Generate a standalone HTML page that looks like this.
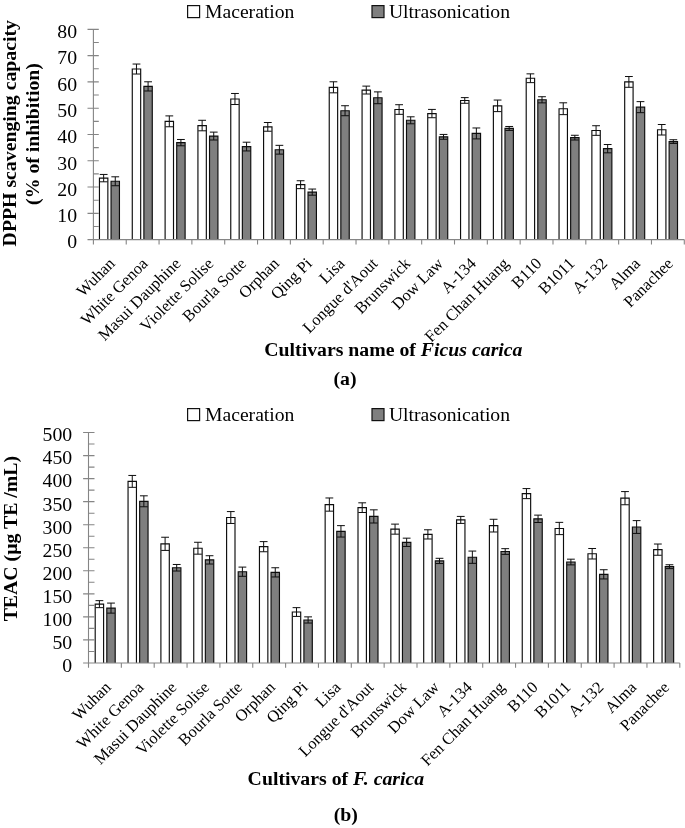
<!DOCTYPE html>
<html lang="en"><head><meta charset="utf-8"><title>Antioxidant capacity of Ficus carica cultivars</title>
<style>
html,body{margin:0;padding:0;background:#fff}
svg{display:block;will-change:transform;filter:grayscale(1)}
text{font-family:"Liberation Serif","Times New Roman",serif;fill:#000}
</style></head><body>
<svg role="img" aria-label="Antioxidant capacity bar charts" width="685" height="828" viewBox="0 0 685 828">
<rect width="685" height="828" fill="#fff"/>
<path d="M99.45 239.62V178.12H107.85V239.62" fill="#fff" stroke="#0d0d0d" stroke-width="1.15"/>
<path d="M103.65 174.44V181.80M99.75 174.44H107.55M99.75 181.80H107.55" stroke="#0d0d0d" stroke-width="1" fill="none"/>
<path d="M111.05 239.62V181.27H119.45V239.62" fill="#7f7f7f" stroke="#0d0d0d" stroke-width="1.15"/>
<path d="M115.25 176.80V185.74M111.35 176.80H119.15M111.35 185.74H119.15" stroke="#0d0d0d" stroke-width="1" fill="none"/>
<path d="M132.28 239.62V69.04H140.68V239.62" fill="#fff" stroke="#0d0d0d" stroke-width="1.15"/>
<path d="M136.48 64.04V74.03M132.58 64.04H140.38M132.58 74.03H140.38" stroke="#0d0d0d" stroke-width="1" fill="none"/>
<path d="M143.88 239.62V86.39H152.28V239.62" fill="#7f7f7f" stroke="#0d0d0d" stroke-width="1.15"/>
<path d="M148.08 81.79V90.99M144.18 81.79H151.98M144.18 90.99H151.98" stroke="#0d0d0d" stroke-width="1" fill="none"/>
<path d="M165.11 239.62V121.34H173.51V239.62" fill="#fff" stroke="#0d0d0d" stroke-width="1.15"/>
<path d="M169.31 115.90V126.78M165.41 115.90H173.21M165.41 126.78H173.21" stroke="#0d0d0d" stroke-width="1" fill="none"/>
<path d="M176.71 239.62V142.63H185.11V239.62" fill="#7f7f7f" stroke="#0d0d0d" stroke-width="1.15"/>
<path d="M180.91 139.48V145.79M177.01 139.48H184.81M177.01 145.79H184.81" stroke="#0d0d0d" stroke-width="1" fill="none"/>
<path d="M197.93 239.62V125.55H206.33V239.62" fill="#fff" stroke="#0d0d0d" stroke-width="1.15"/>
<path d="M202.13 120.29V130.81M198.23 120.29H206.03M198.23 130.81H206.03" stroke="#0d0d0d" stroke-width="1" fill="none"/>
<path d="M209.53 239.62V136.06H217.93V239.62" fill="#7f7f7f" stroke="#0d0d0d" stroke-width="1.15"/>
<path d="M213.73 132.12V140.00M209.83 132.12H217.63M209.83 140.00H217.63" stroke="#0d0d0d" stroke-width="1" fill="none"/>
<path d="M230.76 239.62V99.00H239.16V239.62" fill="#fff" stroke="#0d0d0d" stroke-width="1.15"/>
<path d="M234.96 93.48V104.52M231.06 93.48H238.86M231.06 104.52H238.86" stroke="#0d0d0d" stroke-width="1" fill="none"/>
<path d="M242.36 239.62V146.58H250.76V239.62" fill="#7f7f7f" stroke="#0d0d0d" stroke-width="1.15"/>
<path d="M246.56 142.21V150.94M242.66 142.21H250.46M242.66 150.94H250.46" stroke="#0d0d0d" stroke-width="1" fill="none"/>
<path d="M263.59 239.62V126.86H271.99V239.62" fill="#fff" stroke="#0d0d0d" stroke-width="1.15"/>
<path d="M267.79 122.50V131.23M263.89 122.50H271.69M263.89 131.23H271.69" stroke="#0d0d0d" stroke-width="1" fill="none"/>
<path d="M275.19 239.62V149.73H283.59V239.62" fill="#7f7f7f" stroke="#0d0d0d" stroke-width="1.15"/>
<path d="M279.39 145.34V154.12M275.49 145.34H283.29M275.49 154.12H283.29" stroke="#0d0d0d" stroke-width="1" fill="none"/>
<path d="M296.42 239.62V184.69H304.82V239.62" fill="#fff" stroke="#0d0d0d" stroke-width="1.15"/>
<path d="M300.62 180.74V188.63M296.72 180.74H304.52M296.72 188.63H304.52" stroke="#0d0d0d" stroke-width="1" fill="none"/>
<path d="M308.02 239.62V192.13H316.42V239.62" fill="#7f7f7f" stroke="#0d0d0d" stroke-width="1.15"/>
<path d="M312.22 189.05V195.20M308.32 189.05H316.12M308.32 195.20H316.12" stroke="#0d0d0d" stroke-width="1" fill="none"/>
<path d="M329.24 239.62V87.31H337.64V239.62" fill="#fff" stroke="#0d0d0d" stroke-width="1.15"/>
<path d="M333.44 81.79V92.83M329.54 81.79H337.34M329.54 92.83H337.34" stroke="#0d0d0d" stroke-width="1" fill="none"/>
<path d="M340.84 239.62V110.72H349.24V239.62" fill="#7f7f7f" stroke="#0d0d0d" stroke-width="1.15"/>
<path d="M345.04 105.73V115.72M341.14 105.73H348.94M341.14 115.72H348.94" stroke="#0d0d0d" stroke-width="1" fill="none"/>
<path d="M362.07 239.62V90.07H370.47V239.62" fill="#fff" stroke="#0d0d0d" stroke-width="1.15"/>
<path d="M366.27 86.12V94.01M362.37 86.12H370.17M362.37 94.01H370.17" stroke="#0d0d0d" stroke-width="1" fill="none"/>
<path d="M373.67 239.62V97.79H382.07V239.62" fill="#7f7f7f" stroke="#0d0d0d" stroke-width="1.15"/>
<path d="M377.87 91.88V103.71M373.97 91.88H381.77M373.97 103.71H381.77" stroke="#0d0d0d" stroke-width="1" fill="none"/>
<path d="M394.90 239.62V109.52H403.30V239.62" fill="#fff" stroke="#0d0d0d" stroke-width="1.15"/>
<path d="M399.10 104.71V114.33M395.20 104.71H403.00M395.20 114.33H403.00" stroke="#0d0d0d" stroke-width="1" fill="none"/>
<path d="M406.50 239.62V120.29H414.90V239.62" fill="#7f7f7f" stroke="#0d0d0d" stroke-width="1.15"/>
<path d="M410.70 116.80V123.79M406.80 116.80H414.60M406.80 123.79H414.60" stroke="#0d0d0d" stroke-width="1" fill="none"/>
<path d="M427.73 239.62V113.56H436.13V239.62" fill="#fff" stroke="#0d0d0d" stroke-width="1.15"/>
<path d="M431.93 109.41V117.72M428.03 109.41H435.83M428.03 117.72H435.83" stroke="#0d0d0d" stroke-width="1" fill="none"/>
<path d="M439.33 239.62V136.85H447.73V239.62" fill="#7f7f7f" stroke="#0d0d0d" stroke-width="1.15"/>
<path d="M443.53 134.43V139.27M439.63 134.43H447.43M439.63 139.27H447.43" stroke="#0d0d0d" stroke-width="1" fill="none"/>
<path d="M460.56 239.62V100.45H468.96V239.62" fill="#fff" stroke="#0d0d0d" stroke-width="1.15"/>
<path d="M464.76 97.61V103.29M460.86 97.61H468.66M460.86 103.29H468.66" stroke="#0d0d0d" stroke-width="1" fill="none"/>
<path d="M472.16 239.62V133.43H480.56V239.62" fill="#7f7f7f" stroke="#0d0d0d" stroke-width="1.15"/>
<path d="M476.36 127.97V138.90M472.46 127.97H480.26M472.46 138.90H480.26" stroke="#0d0d0d" stroke-width="1" fill="none"/>
<path d="M493.38 239.62V105.84H501.78V239.62" fill="#fff" stroke="#0d0d0d" stroke-width="1.15"/>
<path d="M497.58 100.05V111.62M493.68 100.05H501.48M493.68 111.62H501.48" stroke="#0d0d0d" stroke-width="1" fill="none"/>
<path d="M504.98 239.62V128.44H513.38V239.62" fill="#7f7f7f" stroke="#0d0d0d" stroke-width="1.15"/>
<path d="M509.18 126.47V130.41M505.28 126.47H513.08M505.28 130.41H513.08" stroke="#0d0d0d" stroke-width="1" fill="none"/>
<path d="M526.21 239.62V78.24H534.61V239.62" fill="#fff" stroke="#0d0d0d" stroke-width="1.15"/>
<path d="M530.41 73.85V82.63M526.51 73.85H534.31M526.51 82.63H534.31" stroke="#0d0d0d" stroke-width="1" fill="none"/>
<path d="M537.81 239.62V99.79H546.21V239.62" fill="#7f7f7f" stroke="#0d0d0d" stroke-width="1.15"/>
<path d="M542.01 96.72V102.87M538.11 96.72H545.91M538.11 102.87H545.91" stroke="#0d0d0d" stroke-width="1" fill="none"/>
<path d="M559.04 239.62V108.73H567.44V239.62" fill="#fff" stroke="#0d0d0d" stroke-width="1.15"/>
<path d="M563.24 102.81V114.64M559.34 102.81H567.14M559.34 114.64H567.14" stroke="#0d0d0d" stroke-width="1" fill="none"/>
<path d="M570.64 239.62V137.64H579.04V239.62" fill="#7f7f7f" stroke="#0d0d0d" stroke-width="1.15"/>
<path d="M574.84 135.27V140.00M570.94 135.27H578.74M570.94 140.00H578.74" stroke="#0d0d0d" stroke-width="1" fill="none"/>
<path d="M591.87 239.62V130.54H600.27V239.62" fill="#fff" stroke="#0d0d0d" stroke-width="1.15"/>
<path d="M596.07 125.73V135.35M592.17 125.73H599.97M592.17 135.35H599.97" stroke="#0d0d0d" stroke-width="1" fill="none"/>
<path d="M603.47 239.62V148.68H611.87V239.62" fill="#7f7f7f" stroke="#0d0d0d" stroke-width="1.15"/>
<path d="M607.67 144.53V152.83M603.77 144.53H611.57M603.77 152.83H611.57" stroke="#0d0d0d" stroke-width="1" fill="none"/>
<path d="M624.69 239.62V81.92H633.09V239.62" fill="#fff" stroke="#0d0d0d" stroke-width="1.15"/>
<path d="M628.89 76.53V87.31M624.99 76.53H632.79M624.99 87.31H632.79" stroke="#0d0d0d" stroke-width="1" fill="none"/>
<path d="M636.29 239.62V107.15H644.69V239.62" fill="#7f7f7f" stroke="#0d0d0d" stroke-width="1.15"/>
<path d="M640.49 101.63V112.67M636.59 101.63H644.39M636.59 112.67H644.39" stroke="#0d0d0d" stroke-width="1" fill="none"/>
<path d="M657.52 239.62V129.75H665.92V239.62" fill="#fff" stroke="#0d0d0d" stroke-width="1.15"/>
<path d="M661.72 124.50V135.01M657.82 124.50H665.62M657.82 135.01H665.62" stroke="#0d0d0d" stroke-width="1" fill="none"/>
<path d="M669.12 239.62V141.58H677.52V239.62" fill="#7f7f7f" stroke="#0d0d0d" stroke-width="1.15"/>
<path d="M673.32 139.74V143.42M669.42 139.74H677.22M669.42 143.42H677.22" stroke="#0d0d0d" stroke-width="1" fill="none"/>
<path d="M93.40 29.35V239.62M93.40 239.62H684.30M87.50 239.62H98.80M87.50 213.34H98.80M87.50 187.05H98.80M87.50 160.77H98.80M87.50 134.49H98.80M87.50 108.20H98.80M87.50 81.92H98.80M87.50 55.63H98.80M87.50 29.35H98.80M93.40 226.48H98.80M93.40 200.19H98.80M93.40 173.91H98.80M93.40 147.63H98.80M93.40 121.34H98.80M93.40 95.06H98.80M93.40 68.78H98.80M93.40 42.49H98.80M93.40 239.62V244.42M126.23 239.62V244.42M159.06 239.62V244.42M191.88 239.62V244.42M224.71 239.62V244.42M257.54 239.62V244.42M290.37 239.62V244.42M323.19 239.62V244.42M356.02 239.62V244.42M388.85 239.62V244.42M421.68 239.62V244.42M454.51 239.62V244.42M487.33 239.62V244.42M520.16 239.62V244.42M552.99 239.62V244.42M585.82 239.62V244.42M618.64 239.62V244.42M651.47 239.62V244.42M684.30 239.62V244.42" stroke="#858585" stroke-width="1.1" fill="none"/>
<text x="77.1" y="248.47" text-anchor="end" font-size="19.75">0</text>
<text x="77.1" y="222.19" text-anchor="end" font-size="19.75">10</text>
<text x="77.1" y="195.90" text-anchor="end" font-size="19.75">20</text>
<text x="77.1" y="169.62" text-anchor="end" font-size="19.75">30</text>
<text x="77.1" y="143.34" text-anchor="end" font-size="19.75">40</text>
<text x="77.1" y="117.05" text-anchor="end" font-size="19.75">50</text>
<text x="77.1" y="90.77" text-anchor="end" font-size="19.75">60</text>
<text x="77.1" y="64.48" text-anchor="end" font-size="19.75">70</text>
<text x="77.1" y="38.20" text-anchor="end" font-size="19.75">80</text>
<text transform="translate(115.91 264.52) rotate(-45)" text-anchor="end" font-size="16.4">Wuhan</text>
<text transform="translate(148.74 264.52) rotate(-45)" text-anchor="end" font-size="16.4">White Genoa</text>
<text transform="translate(181.57 264.52) rotate(-45)" text-anchor="end" font-size="16.4">Masui Dauphine</text>
<text transform="translate(214.40 264.52) rotate(-45)" text-anchor="end" font-size="16.4">Violette Solise</text>
<text transform="translate(247.22 264.52) rotate(-45)" text-anchor="end" font-size="16.4">Bourla Sotte</text>
<text transform="translate(280.05 264.52) rotate(-45)" text-anchor="end" font-size="16.4">Orphan</text>
<text transform="translate(312.88 264.52) rotate(-45)" text-anchor="end" font-size="16.4">Qing Pi</text>
<text transform="translate(345.71 264.52) rotate(-45)" text-anchor="end" font-size="16.4">Lisa</text>
<text transform="translate(378.54 264.52) rotate(-45)" text-anchor="end" font-size="16.4">Longue d'Aout</text>
<text transform="translate(411.36 264.52) rotate(-45)" text-anchor="end" font-size="16.4">Brunswick</text>
<text transform="translate(444.19 264.52) rotate(-45)" text-anchor="end" font-size="16.4">Dow Law</text>
<text transform="translate(477.02 264.52) rotate(-45)" text-anchor="end" font-size="16.4">A-134</text>
<text transform="translate(509.85 264.52) rotate(-45)" text-anchor="end" font-size="16.4">Fen Chan Huang</text>
<text transform="translate(542.67 264.52) rotate(-45)" text-anchor="end" font-size="16.4">B110</text>
<text transform="translate(575.50 264.52) rotate(-45)" text-anchor="end" font-size="16.4">B1011</text>
<text transform="translate(608.33 264.52) rotate(-45)" text-anchor="end" font-size="16.4">A-132</text>
<text transform="translate(641.16 264.52) rotate(-45)" text-anchor="end" font-size="16.4">Alma</text>
<text transform="translate(673.99 264.52) rotate(-45)" text-anchor="end" font-size="16.4">Panachee</text>
<path d="M95.20 662.95V604.15H103.60V662.95" fill="#fff" stroke="#0d0d0d" stroke-width="1.15"/>
<path d="M99.40 600.65V607.65M95.50 600.65H103.30M95.50 607.65H103.30" stroke="#0d0d0d" stroke-width="1" fill="none"/>
<path d="M106.80 662.95V608.11H115.20V662.95" fill="#7f7f7f" stroke="#0d0d0d" stroke-width="1.15"/>
<path d="M111.00 603.09V613.14M107.10 603.09H114.90M107.10 613.14H114.90" stroke="#0d0d0d" stroke-width="1" fill="none"/>
<path d="M128.05 662.95V481.39H136.45V662.95" fill="#fff" stroke="#0d0d0d" stroke-width="1.15"/>
<path d="M132.25 475.45V487.34M128.35 475.45H136.15M128.35 487.34H136.15" stroke="#0d0d0d" stroke-width="1" fill="none"/>
<path d="M139.65 662.95V501.30H148.05V662.95" fill="#7f7f7f" stroke="#0d0d0d" stroke-width="1.15"/>
<path d="M143.85 495.82V506.78M139.95 495.82H147.75M139.95 506.78H147.75" stroke="#0d0d0d" stroke-width="1" fill="none"/>
<path d="M160.90 662.95V543.83H169.30V662.95" fill="#fff" stroke="#0d0d0d" stroke-width="1.15"/>
<path d="M165.10 537.24V550.42M161.20 537.24H169.00M161.20 550.42H169.00" stroke="#0d0d0d" stroke-width="1" fill="none"/>
<path d="M172.50 662.95V567.75H180.90V662.95" fill="#7f7f7f" stroke="#0d0d0d" stroke-width="1.15"/>
<path d="M176.70 564.48V571.02M172.80 564.48H180.60M172.80 571.02H180.60" stroke="#0d0d0d" stroke-width="1" fill="none"/>
<path d="M193.75 662.95V548.21H202.15V662.95" fill="#fff" stroke="#0d0d0d" stroke-width="1.15"/>
<path d="M197.95 542.27V554.16M194.05 542.27H201.85M194.05 554.16H201.85" stroke="#0d0d0d" stroke-width="1" fill="none"/>
<path d="M205.35 662.95V559.87H213.75V662.95" fill="#7f7f7f" stroke="#0d0d0d" stroke-width="1.15"/>
<path d="M209.55 555.72V564.02M205.65 555.72H213.45M205.65 564.02H213.45" stroke="#0d0d0d" stroke-width="1" fill="none"/>
<path d="M226.60 662.95V517.52H235.00V662.95" fill="#fff" stroke="#0d0d0d" stroke-width="1.15"/>
<path d="M230.80 511.58V523.47M226.90 511.58H234.70M226.90 523.47H234.70" stroke="#0d0d0d" stroke-width="1" fill="none"/>
<path d="M238.20 662.95V571.71H246.60V662.95" fill="#7f7f7f" stroke="#0d0d0d" stroke-width="1.15"/>
<path d="M242.40 567.10V576.32M238.50 567.10H246.30M238.50 576.32H246.30" stroke="#0d0d0d" stroke-width="1" fill="none"/>
<path d="M259.45 662.95V546.69H267.85V662.95" fill="#fff" stroke="#0d0d0d" stroke-width="1.15"/>
<path d="M263.65 541.62V551.76M259.75 541.62H267.55M259.75 551.76H267.55" stroke="#0d0d0d" stroke-width="1" fill="none"/>
<path d="M271.05 662.95V572.36H279.45V662.95" fill="#7f7f7f" stroke="#0d0d0d" stroke-width="1.15"/>
<path d="M275.25 567.75V576.96M271.35 567.75H279.15M271.35 576.96H279.15" stroke="#0d0d0d" stroke-width="1" fill="none"/>
<path d="M292.30 662.95V612.03H300.70V662.95" fill="#fff" stroke="#0d0d0d" stroke-width="1.15"/>
<path d="M296.50 607.65V616.41M292.60 607.65H300.40M292.60 616.41H300.40" stroke="#0d0d0d" stroke-width="1" fill="none"/>
<path d="M303.90 662.95V619.96H312.30V662.95" fill="#7f7f7f" stroke="#0d0d0d" stroke-width="1.15"/>
<path d="M308.10 616.87V623.04M304.20 616.87H312.00M304.20 623.04H312.00" stroke="#0d0d0d" stroke-width="1" fill="none"/>
<path d="M325.15 662.95V504.57H333.55V662.95" fill="#fff" stroke="#0d0d0d" stroke-width="1.15"/>
<path d="M329.35 497.98V511.16M325.45 497.98H333.25M325.45 511.16H333.25" stroke="#0d0d0d" stroke-width="1" fill="none"/>
<path d="M336.75 662.95V531.35H345.15V662.95" fill="#7f7f7f" stroke="#0d0d0d" stroke-width="1.15"/>
<path d="M340.95 525.63V537.06M337.05 525.63H344.85M337.05 537.06H344.85" stroke="#0d0d0d" stroke-width="1" fill="none"/>
<path d="M358.00 662.95V507.66H366.40V662.95" fill="#fff" stroke="#0d0d0d" stroke-width="1.15"/>
<path d="M362.20 502.82V512.50M358.30 502.82H366.10M358.30 512.50H366.10" stroke="#0d0d0d" stroke-width="1" fill="none"/>
<path d="M369.60 662.95V516.42H378.00V662.95" fill="#7f7f7f" stroke="#0d0d0d" stroke-width="1.15"/>
<path d="M373.80 509.83V523.01M369.90 509.83H377.70M369.90 523.01H377.70" stroke="#0d0d0d" stroke-width="1" fill="none"/>
<path d="M390.85 662.95V529.13H399.25V662.95" fill="#fff" stroke="#0d0d0d" stroke-width="1.15"/>
<path d="M395.05 524.11V534.16M391.15 524.11H398.95M391.15 534.16H398.95" stroke="#0d0d0d" stroke-width="1" fill="none"/>
<path d="M402.45 662.95V542.31H410.85V662.95" fill="#7f7f7f" stroke="#0d0d0d" stroke-width="1.15"/>
<path d="M406.65 538.17V546.46M402.75 538.17H410.55M402.75 546.46H410.55" stroke="#0d0d0d" stroke-width="1" fill="none"/>
<path d="M423.70 662.95V534.39H432.10V662.95" fill="#fff" stroke="#0d0d0d" stroke-width="1.15"/>
<path d="M427.90 529.78V538.99M424.00 529.78H431.80M424.00 538.99H431.80" stroke="#0d0d0d" stroke-width="1" fill="none"/>
<path d="M435.30 662.95V560.93H443.70V662.95" fill="#7f7f7f" stroke="#0d0d0d" stroke-width="1.15"/>
<path d="M439.50 558.30V563.56M435.60 558.30H443.40M435.60 563.56H443.40" stroke="#0d0d0d" stroke-width="1" fill="none"/>
<path d="M456.55 662.95V519.92H464.95V662.95" fill="#fff" stroke="#0d0d0d" stroke-width="1.15"/>
<path d="M460.75 516.42V523.42M456.85 516.42H464.65M456.85 523.42H464.65" stroke="#0d0d0d" stroke-width="1" fill="none"/>
<path d="M468.15 662.95V557.20H476.55V662.95" fill="#7f7f7f" stroke="#0d0d0d" stroke-width="1.15"/>
<path d="M472.35 551.07V563.33M468.45 551.07H476.25M468.45 563.33H476.25" stroke="#0d0d0d" stroke-width="1" fill="none"/>
<path d="M489.40 662.95V525.63H497.80V662.95" fill="#fff" stroke="#0d0d0d" stroke-width="1.15"/>
<path d="M493.60 519.27V531.99M489.70 519.27H497.50M489.70 531.99H497.50" stroke="#0d0d0d" stroke-width="1" fill="none"/>
<path d="M501.00 662.95V551.53H509.40V662.95" fill="#7f7f7f" stroke="#0d0d0d" stroke-width="1.15"/>
<path d="M505.20 548.67V554.39M501.30 548.67H509.10M501.30 554.39H509.10" stroke="#0d0d0d" stroke-width="1" fill="none"/>
<path d="M522.25 662.95V493.61H530.65V662.95" fill="#fff" stroke="#0d0d0d" stroke-width="1.15"/>
<path d="M526.45 488.58V498.63M522.55 488.58H530.35M522.55 498.63H530.35" stroke="#0d0d0d" stroke-width="1" fill="none"/>
<path d="M533.85 662.95V518.81H542.25V662.95" fill="#7f7f7f" stroke="#0d0d0d" stroke-width="1.15"/>
<path d="M538.05 515.13V522.50M534.15 515.13H541.95M534.15 522.50H541.95" stroke="#0d0d0d" stroke-width="1" fill="none"/>
<path d="M555.10 662.95V528.49H563.50V662.95" fill="#fff" stroke="#0d0d0d" stroke-width="1.15"/>
<path d="M559.30 522.36V534.62M555.40 522.36H563.20M555.40 534.62H563.20" stroke="#0d0d0d" stroke-width="1" fill="none"/>
<path d="M566.70 662.95V562.03H575.10V662.95" fill="#7f7f7f" stroke="#0d0d0d" stroke-width="1.15"/>
<path d="M570.90 559.18V564.89M567.00 559.18H574.80M567.00 564.89H574.80" stroke="#0d0d0d" stroke-width="1" fill="none"/>
<path d="M587.95 662.95V553.74H596.35V662.95" fill="#fff" stroke="#0d0d0d" stroke-width="1.15"/>
<path d="M592.15 548.49V558.99M588.25 548.49H596.05M588.25 558.99H596.05" stroke="#0d0d0d" stroke-width="1" fill="none"/>
<path d="M599.55 662.95V574.34H607.95V662.95" fill="#7f7f7f" stroke="#0d0d0d" stroke-width="1.15"/>
<path d="M603.75 569.73V578.95M599.85 569.73H607.65M599.85 578.95H607.65" stroke="#0d0d0d" stroke-width="1" fill="none"/>
<path d="M620.80 662.95V498.17H629.20V662.95" fill="#fff" stroke="#0d0d0d" stroke-width="1.15"/>
<path d="M625.00 491.58V504.76M621.10 491.58H628.90M621.10 504.76H628.90" stroke="#0d0d0d" stroke-width="1" fill="none"/>
<path d="M632.40 662.95V527.01H640.80V662.95" fill="#7f7f7f" stroke="#0d0d0d" stroke-width="1.15"/>
<path d="M636.60 520.61V533.42M632.70 520.61H640.50M632.70 533.42H640.50" stroke="#0d0d0d" stroke-width="1" fill="none"/>
<path d="M653.65 662.95V549.64H662.05V662.95" fill="#fff" stroke="#0d0d0d" stroke-width="1.15"/>
<path d="M657.85 544.02V555.26M653.95 544.02H661.75M653.95 555.26H661.75" stroke="#0d0d0d" stroke-width="1" fill="none"/>
<path d="M665.25 662.95V566.69H673.65V662.95" fill="#7f7f7f" stroke="#0d0d0d" stroke-width="1.15"/>
<path d="M669.45 564.75V568.62M665.55 564.75H673.35M665.55 568.62H673.35" stroke="#0d0d0d" stroke-width="1" fill="none"/>
<path d="M88.50 432.55V662.95M88.50 662.95H679.80M83.10 662.95H94.50M83.10 639.91H94.50M83.10 616.87H94.50M83.10 593.83H94.50M83.10 570.79H94.50M83.10 547.75H94.50M83.10 524.71H94.50M83.10 501.67H94.50M83.10 478.63H94.50M83.10 455.59H94.50M83.10 432.55H94.50M88.50 651.43H94.50M88.50 628.39H94.50M88.50 605.35H94.50M88.50 582.31H94.50M88.50 559.27H94.50M88.50 536.23H94.50M88.50 513.19H94.50M88.50 490.15H94.50M88.50 467.11H94.50M88.50 444.07H94.50M88.50 662.95V667.75M121.35 662.95V667.75M154.20 662.95V667.75M187.05 662.95V667.75M219.90 662.95V667.75M252.75 662.95V667.75M285.60 662.95V667.75M318.45 662.95V667.75M351.30 662.95V667.75M384.15 662.95V667.75M417.00 662.95V667.75M449.85 662.95V667.75M482.70 662.95V667.75M515.55 662.95V667.75M548.40 662.95V667.75M581.25 662.95V667.75M614.10 662.95V667.75M646.95 662.95V667.75M679.80 662.95V667.75" stroke="#858585" stroke-width="1.1" fill="none"/>
<text x="72.2" y="671.80" text-anchor="end" font-size="19.75">0</text>
<text x="72.2" y="648.76" text-anchor="end" font-size="19.75">50</text>
<text x="72.2" y="625.72" text-anchor="end" font-size="19.75">100</text>
<text x="72.2" y="602.68" text-anchor="end" font-size="19.75">150</text>
<text x="72.2" y="579.64" text-anchor="end" font-size="19.75">200</text>
<text x="72.2" y="556.60" text-anchor="end" font-size="19.75">250</text>
<text x="72.2" y="533.56" text-anchor="end" font-size="19.75">300</text>
<text x="72.2" y="510.52" text-anchor="end" font-size="19.75">350</text>
<text x="72.2" y="487.48" text-anchor="end" font-size="19.75">400</text>
<text x="72.2" y="464.44" text-anchor="end" font-size="19.75">450</text>
<text x="72.2" y="441.40" text-anchor="end" font-size="19.75">500</text>
<text transform="translate(111.72 688.25) rotate(-45)" text-anchor="end" font-size="16.4">Wuhan</text>
<text transform="translate(144.57 688.25) rotate(-45)" text-anchor="end" font-size="16.4">White Genoa</text>
<text transform="translate(177.43 688.25) rotate(-45)" text-anchor="end" font-size="16.4">Masui Dauphine</text>
<text transform="translate(210.27 688.25) rotate(-45)" text-anchor="end" font-size="16.4">Violette Solise</text>
<text transform="translate(243.12 688.25) rotate(-45)" text-anchor="end" font-size="16.4">Bourla Sotte</text>
<text transform="translate(275.97 688.25) rotate(-45)" text-anchor="end" font-size="16.4">Orphan</text>
<text transform="translate(308.82 688.25) rotate(-45)" text-anchor="end" font-size="16.4">Qing Pi</text>
<text transform="translate(341.67 688.25) rotate(-45)" text-anchor="end" font-size="16.4">Lisa</text>
<text transform="translate(374.52 688.25) rotate(-45)" text-anchor="end" font-size="16.4">Longue d'Aout</text>
<text transform="translate(407.37 688.25) rotate(-45)" text-anchor="end" font-size="16.4">Brunswick</text>
<text transform="translate(440.22 688.25) rotate(-45)" text-anchor="end" font-size="16.4">Dow Law</text>
<text transform="translate(473.07 688.25) rotate(-45)" text-anchor="end" font-size="16.4">A-134</text>
<text transform="translate(505.92 688.25) rotate(-45)" text-anchor="end" font-size="16.4">Fen Chan Huang</text>
<text transform="translate(538.77 688.25) rotate(-45)" text-anchor="end" font-size="16.4">B110</text>
<text transform="translate(571.62 688.25) rotate(-45)" text-anchor="end" font-size="16.4">B1011</text>
<text transform="translate(604.47 688.25) rotate(-45)" text-anchor="end" font-size="16.4">A-132</text>
<text transform="translate(637.32 688.25) rotate(-45)" text-anchor="end" font-size="16.4">Alma</text>
<text transform="translate(670.17 688.25) rotate(-45)" text-anchor="end" font-size="16.4">Panachee</text>
<rect x="187.6" y="5.6" width="12" height="12" fill="#fff" stroke="#111" stroke-width="1.2"/><text x="205.0" y="17.7" font-size="19.65">Maceration</text><rect x="372.0" y="5.6" width="12" height="12" fill="#7f7f7f" stroke="#111" stroke-width="1.2"/><text x="388.9" y="17.7" font-size="19.65">Ultrasonication</text>
<rect x="187.6" y="408.6" width="12" height="12" fill="#fff" stroke="#111" stroke-width="1.2"/><text x="205.0" y="420.70000000000005" font-size="19.65">Maceration</text><rect x="372.0" y="408.6" width="12" height="12" fill="#7f7f7f" stroke="#111" stroke-width="1.2"/><text x="388.9" y="420.70000000000005" font-size="19.65">Ultrasonication</text>
<text x="393.4" y="356.3" text-anchor="middle" font-weight="bold" font-size="19.8">Cultivars name of <tspan font-style="italic">Ficus carica</tspan></text>
<text x="345" y="384.9" text-anchor="middle" font-weight="bold" font-size="19.8">(a)</text>
<text x="335.9" y="784.7" text-anchor="middle" font-weight="bold" font-size="19.8">Cultivars of <tspan font-style="italic">F. carica</tspan></text>
<text x="345.8" y="821" text-anchor="middle" font-weight="bold" font-size="19.8">(b)</text>
<text transform="translate(15.9 133.2) rotate(-90)" text-anchor="middle" font-weight="bold" font-size="19.8">DPPH scavenging capacity</text>
<text transform="translate(39.1 134) rotate(-90)" text-anchor="middle" font-weight="bold" font-size="19.8">(% of inhibition)</text>
<text transform="translate(17.4 538.6) rotate(-90)" text-anchor="middle" font-weight="bold" font-size="19.8">TEAC (µg TE /mL)</text>
</svg>
</body></html>
